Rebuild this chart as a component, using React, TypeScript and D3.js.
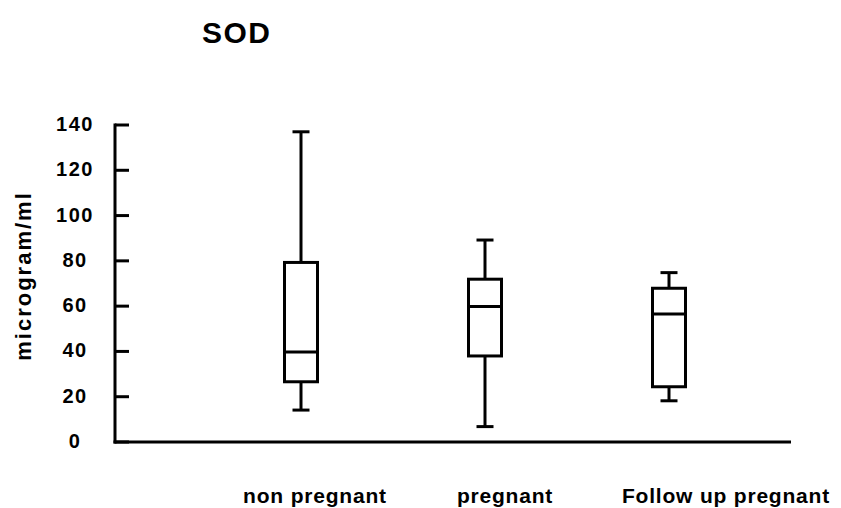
import React from "react";
import * as d3 from "d3";

const categories = ["non pregnant", "pregnant", "Follow up pregnant"];
const whiskerMax = [137, 89.2, 74.8];
const q3Values = [79.3, 71.9, 67.9];
const medians = [39.8, 59.8, 56.5];
const q1Values = [26.6, 38.0, 24.4];
const whiskerMin = [14.1, 6.8, 18.2];
const yTicks = [0, 20, 40, 60, 80, 100, 120, 140];
const title = "SOD";
const yLabel = "microgram/ml";

const W = 841;
const H = 508;
const axisX = 115;
const axisY = 442;
const axisRight = 791;
const labelOffsets = [14, 20, 57];

export default function App() {
  const y = d3.scaleLinear().domain([0, 140]).range([axisY, 125]);
  const x = d3.scalePoint<string>().domain(categories).range([301, 669]);
  const boxW = 33;
  const capW = 17;
  const sw = 3;
  const font = "'Liberation Sans', Arial, Helvetica, sans-serif";

  return (
    <svg
      width={W}
      height={H}
      style={{ position: "absolute", left: 0, top: 0, background: "#fff" }}
      fontFamily={font}
      fontWeight="bold"
    >
      <rect x={0} y={0} width={W} height={H} fill="#fff" />
      <text x={202} y={43} fontSize={30} letterSpacing={1.5}>
        {title}
      </text>
      <text
        transform={`translate(31,${276}) rotate(-90)`}
        textAnchor="middle"
        fontSize={22}
        letterSpacing={2}
      >
        {yLabel}
      </text>
      {/* axes */}
      <line x1={axisX} x2={axisX} y1={y(140) - 1.5} y2={axisY + 1.5} stroke="#000" strokeWidth={sw} />
      <line x1={axisX - 1.5} x2={axisRight} y1={axisY} y2={axisY} stroke="#000" strokeWidth={sw} />
      {yTicks.map((t) => (
        <g key={t}>
          <line x1={axisX} x2={axisX + 14} y1={y(t)} y2={y(t)} stroke="#000" strokeWidth={sw} />
          <text x={75} y={y(t)} dy="0.3em" textAnchor="middle" fontSize={20} letterSpacing={1.5}>
            {t}
          </text>
        </g>
      ))}
      {categories.map((c, i) => {
        const cx = x(c) as number;
        return (
          <g key={c} stroke="#000" strokeWidth={sw} fill="none">
            <line x1={cx} x2={cx} y1={y(whiskerMax[i])} y2={y(q3Values[i])} />
            <line x1={cx} x2={cx} y1={y(q1Values[i])} y2={y(whiskerMin[i])} />
            <line x1={cx - capW / 2} x2={cx + capW / 2} y1={y(whiskerMax[i])} y2={y(whiskerMax[i])} />
            <line x1={cx - capW / 2} x2={cx + capW / 2} y1={y(whiskerMin[i])} y2={y(whiskerMin[i])} />
            <rect
              x={cx - boxW / 2}
              y={y(q3Values[i])}
              width={boxW}
              height={y(q1Values[i]) - y(q3Values[i])}
            />
            <line x1={cx - boxW / 2} x2={cx + boxW / 2} y1={y(medians[i])} y2={y(medians[i])} />
          </g>
        );
      })}
      {categories.map((c, i) => (
        <text
          key={c}
          x={(x(c) as number) + labelOffsets[i]}
          y={503}
          textAnchor="middle"
          fontSize={21}
          letterSpacing={0.8}
        >
          {c}
        </text>
      ))}
    </svg>
  );
}
